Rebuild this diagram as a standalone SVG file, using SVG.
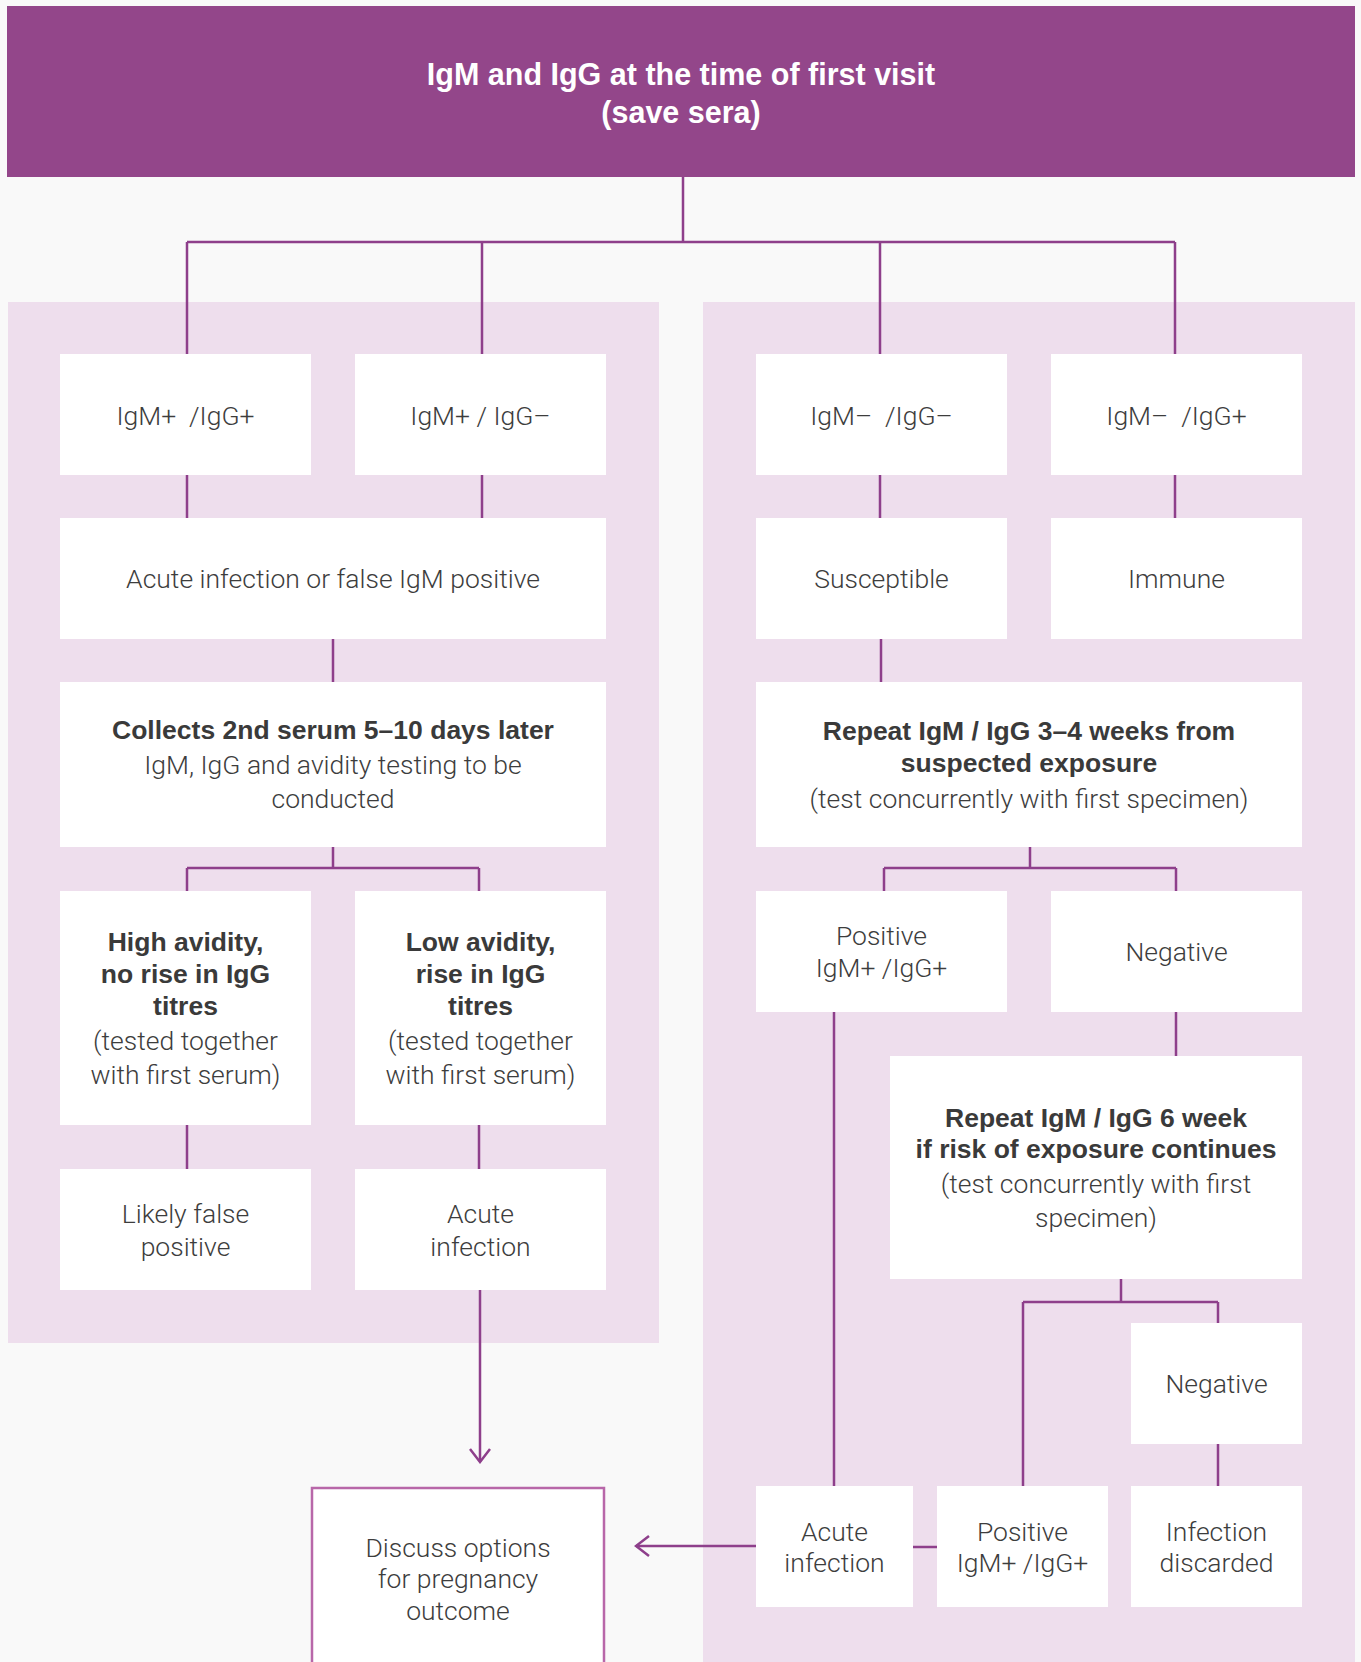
<svg xmlns="http://www.w3.org/2000/svg" width="1361" height="1662" viewBox="0 0 1361 1662">
  <style>
    .bg { fill: #f9f9f9; }
    .panel { fill: #eedeed; }
    .box { fill: #ffffff; }
    .head { fill: #93468a; }
    .out { fill: #ffffff; stroke: #b867a9; stroke-width: 2.5; }
    .lt { font-family: Roboto, "Liberation Sans", sans-serif; font-weight: 300; font-size: 26.5px; fill: #3d3d3d; text-anchor: middle; }
    .bd { font-family: "Liberation Sans", Arial, sans-serif; font-weight: 700; font-size: 26.5px; fill: #3a3a3a; text-anchor: middle; }
    .title { font-family: "Liberation Sans", Arial, sans-serif; font-weight: 700; font-size: 30.5px; fill: #ffffff; text-anchor: middle; }
    .wire { fill: none; stroke: #8e3f8b; stroke-width: 2.5; }
  </style>
  <defs>
    <marker id="chev" viewBox="-15 -12 17 24" refX="0" refY="0" markerWidth="17" markerHeight="24" markerUnits="userSpaceOnUse" orient="auto">
      <path d="M-13,-10 L0,0 L-13,10" fill="none" stroke="#8e3f8b" stroke-width="2.5"/>
    </marker>
  </defs>

  <rect class="bg" x="0" y="0" width="1361" height="1662"/>

  <!-- shaded groupings -->
  <rect class="panel" x="8" y="302" width="651" height="1041"/>
  <rect class="panel" x="703" y="302" width="652" height="1360"/>

  <!-- connectors -->
  <g id="connectors" class="wire">
    <path d="M683,177 V242 M187,242 H1175 M187,242 V354 M482,242 V354 M880,242 V354 M1175,242 V354"/>
    <path d="M187,475 V518 M482,475 V518 M880,475 V518 M1175,475 V518"/>
    <path d="M333,639 V682 M881,639 V682"/>
    <path d="M333,847 V868 M187,868 H479 M187,868 V891 M479,868 V891"/>
    <path d="M1030,847 V868 M884,868 H1176 M884,868 V891 M1176,868 V891"/>
    <path d="M187,1125 V1169 M479,1125 V1169"/>
    <path d="M480,1290 V1462" marker-end="url(#chev)"/>
    <path d="M834,1012 V1486 M1176,1012 V1056"/>
    <path d="M1121,1279 V1302 M1023,1302 H1218 M1023,1302 V1486 M1218,1302 V1323 M1218,1444 V1486"/>
    <path d="M913,1547 H937"/>
    <path d="M756,1546 H636" marker-end="url(#chev)"/>
  </g>

  <g id="n-first-visit">
    <rect class="head" x="7" y="6" width="1348" height="171"/>
    <text class="title" x="681" y="85">IgM and IgG at the time of first visit</text>
    <text class="title" x="681" y="123">(save sera)</text>
  </g>

  <g id="n-igm-pos-igg-pos">
    <rect class="box" x="60" y="354" width="251" height="121"/>
    <text class="lt" x="185.5" y="425" xml:space="preserve">IgM+  /IgG+</text>
  </g>
  <g id="n-igm-pos-igg-neg">
    <rect class="box" x="355" y="354" width="251" height="121"/>
    <text class="lt" x="480.5" y="425">IgM+ / IgG–</text>
  </g>
  <g id="n-igm-neg-igg-neg">
    <rect class="box" x="756" y="354" width="251" height="121"/>
    <text class="lt" x="881.5" y="425" xml:space="preserve">IgM–  /IgG–</text>
  </g>
  <g id="n-igm-neg-igg-pos">
    <rect class="box" x="1051" y="354" width="251" height="121"/>
    <text class="lt" x="1176.5" y="425" xml:space="preserve">IgM–  /IgG+</text>
  </g>

  <g id="n-acute-or-false">
    <rect class="box" x="60" y="518" width="546" height="121"/>
    <text class="lt" x="333" y="588">Acute infection or false IgM positive</text>
  </g>
  <g id="n-susceptible">
    <rect class="box" x="756" y="518" width="251" height="121"/>
    <text class="lt" x="881.5" y="588">Susceptible</text>
  </g>
  <g id="n-immune">
    <rect class="box" x="1051" y="518" width="251" height="121"/>
    <text class="lt" x="1176.5" y="588">Immune</text>
  </g>

  <g id="n-second-serum">
    <rect class="box" x="60" y="682" width="546" height="165"/>
    <text class="bd" x="333" y="739">Collects 2nd serum 5–10 days later</text>
    <text class="lt" x="333" y="774">IgM, IgG and avidity testing to be</text>
    <text class="lt" x="333" y="808">conducted</text>
  </g>
  <g id="n-repeat-3-4-weeks">
    <rect class="box" x="756" y="682" width="546" height="165"/>
    <text class="bd" x="1029" y="740">Repeat IgM / IgG 3–4 weeks from</text>
    <text class="bd" x="1029" y="772">suspected exposure</text>
    <text class="lt" x="1029" y="808">(test concurrently with first specimen)</text>
  </g>

  <g id="n-high-avidity">
    <rect class="box" x="60" y="891" width="251" height="234"/>
    <text class="bd" x="185.5" y="951">High avidity,</text>
    <text class="bd" x="185.5" y="983">no rise in IgG</text>
    <text class="bd" x="185.5" y="1015">titres</text>
    <text class="lt" x="185.5" y="1050">(tested together</text>
    <text class="lt" x="185.5" y="1084">with first serum)</text>
  </g>
  <g id="n-low-avidity">
    <rect class="box" x="355" y="891" width="251" height="234"/>
    <text class="bd" x="480.5" y="951">Low avidity,</text>
    <text class="bd" x="480.5" y="983">rise in IgG</text>
    <text class="bd" x="480.5" y="1015">titres</text>
    <text class="lt" x="480.5" y="1050">(tested together</text>
    <text class="lt" x="480.5" y="1084">with first serum)</text>
  </g>
  <g id="n-positive-1">
    <rect class="box" x="756" y="891" width="251" height="121"/>
    <text class="lt" x="881.5" y="945">Positive</text>
    <text class="lt" x="881.5" y="977">IgM+ /IgG+</text>
  </g>
  <g id="n-negative-1">
    <rect class="box" x="1051" y="891" width="251" height="121"/>
    <text class="lt" x="1176.5" y="961">Negative</text>
  </g>

  <g id="n-likely-false">
    <rect class="box" x="60" y="1169" width="251" height="121"/>
    <text class="lt" x="185.5" y="1223">Likely false</text>
    <text class="lt" x="185.5" y="1256">positive</text>
  </g>
  <g id="n-acute-left">
    <rect class="box" x="355" y="1169" width="251" height="121"/>
    <text class="lt" x="480.5" y="1223">Acute</text>
    <text class="lt" x="480.5" y="1256">infection</text>
  </g>

  <g id="n-repeat-6-weeks">
    <rect class="box" x="890" y="1056" width="412" height="223"/>
    <text class="bd" x="1096" y="1127">Repeat IgM / IgG 6 week</text>
    <text class="bd" x="1096" y="1158">if risk of exposure continues</text>
    <text class="lt" x="1096" y="1193">(test concurrently with first</text>
    <text class="lt" x="1096" y="1227">specimen)</text>
  </g>
  <g id="n-negative-2">
    <rect class="box" x="1131" y="1323" width="171" height="121"/>
    <text class="lt" x="1216.5" y="1393">Negative</text>
  </g>

  <g id="n-acute-right">
    <rect class="box" x="756" y="1486" width="157" height="121"/>
    <text class="lt" x="834.5" y="1541">Acute</text>
    <text class="lt" x="834.5" y="1572">infection</text>
  </g>
  <g id="n-positive-2">
    <rect class="box" x="937" y="1486" width="171" height="121"/>
    <text class="lt" x="1022.5" y="1541">Positive</text>
    <text class="lt" x="1022.5" y="1572">IgM+ /IgG+</text>
  </g>
  <g id="n-discarded">
    <rect class="box" x="1131" y="1486" width="171" height="121"/>
    <text class="lt" x="1216.5" y="1541">Infection</text>
    <text class="lt" x="1216.5" y="1572">discarded</text>
  </g>

  <g id="n-discuss">
    <rect class="out" x="312" y="1488" width="292" height="200"/>
    <text class="lt" x="458" y="1557">Discuss options</text>
    <text class="lt" x="458" y="1588">for pregnancy</text>
    <text class="lt" x="458" y="1620">outcome</text>
  </g>
</svg>
